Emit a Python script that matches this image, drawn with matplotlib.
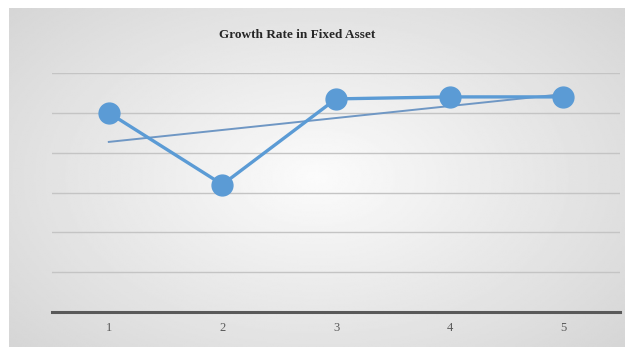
import numpy as np
import matplotlib.pyplot as plt

# data
periods = [1, 2, 3, 4, 5]
tick_labels = ["1", "2", "3", "4", "5"]
growth = [5.0, 3.2, 5.35, 5.4, 5.4]

W, H = 625, 347
fig = plt.figure(figsize=(W / 100, H / 100), dpi=100)
fig.patch.set_facecolor("white")

# grey radial-ish background panel
bg = fig.add_axes([9 / W, 0, 1 - 9 / W, 1 - 8 / H])
yy, xx = np.mgrid[-1:1:200j, -1:1:360j]
r = np.sqrt((xx * 0.9) ** 2 + (yy * 0.8) ** 2)
shade = 0.985 - 0.16 * np.clip(r, 0, 1.3) / 1.3
bg.imshow(shade, cmap="gray", vmin=0, vmax=1, aspect="auto", interpolation="bilinear")
bg.axis("off")

ax = fig.add_axes([52 / W, (H - 312) / H, (620 - 52) / W, (312 - 73) / H])
ax.patch.set_alpha(0)
ax.set_xlim(0.5, 5.5)
ax.set_ylim(0, 6)

for g in range(1, 7):
    ax.axhline(g, color="#c4c4c4", lw=1, zorder=1)

# linear trendline
k, b = np.polyfit(periods, growth, 1)
xs = np.array([periods[0], periods[-1]])
ax.plot(xs, k * xs + b, color="#6f97c4", lw=1.4, zorder=2)

ax.plot(periods, growth, color="#5b9bd5", lw=2.4, marker="o", markersize=15,
        markerfacecolor="#5b9bd5", markeredgecolor="#5b9bd5", zorder=3)

for s in ["top", "right", "left"]:
    ax.spines[s].set_visible(False)
ax.spines["bottom"].set_color("#595959")
ax.spines["bottom"].set_linewidth(2.2)
ax.set_yticks([])
ax.set_xticks(periods)
ax.set_xticklabels(tick_labels, family="Liberation Serif", fontsize=9, color="#595959")
ax.tick_params(axis="x", length=0, pad=7)

fig.text(297 / W, 1 - 35 / H, "Growth Rate in Fixed Asset", ha="center", va="center",
         family="Liberation Serif", fontweight="bold", fontsize=9.5, color="#262626")

fig.savefig("out.png", dpi=100)
